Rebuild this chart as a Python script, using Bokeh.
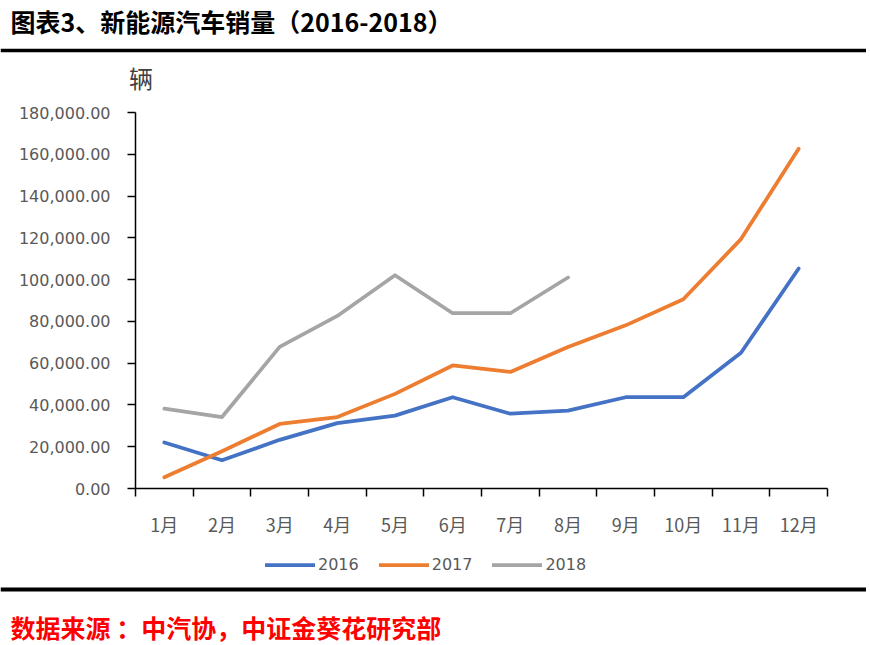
from bokeh.plotting import figure
from bokeh.models import (Range1d, FixedTicker, NumeralTickFormatter, Legend, LegendItem,
                          Span, ColumnDataSource)
from bokeh.layouts import column
from bokeh.core.properties import value
from bokeh.embed import file_html
from bokeh.resources import INLINE
import numpy as np

# ---------------- data ----------------
title_text = "图表3、新能源汽车销量（2016-2018）"
unit_text = "辆"
source_text = "数据来源 ：中汽协，中证金葵花研究部"
months = ["1月", "2月", "3月", "4月", "5月", "6月", "7月", "8月", "9月", "10月", "11月", "12月"]
sales_2016 = [22000, 13500, 23300, 31300, 34900, 43700, 35800, 37300, 43700, 43700, 65000, 105300]
sales_2017 = [5400, 17800, 30900, 34200, 45300, 58900, 55800, 67700, 78100, 90600, 119400, 162600]
sales_2018 = [38200, 34200, 67800, 82600, 102100, 83900, 83900, 101000]
y_ticks = [0, 20000, 40000, 60000, 80000, 100000, 120000, 140000, 160000, 180000]
series_names = ["2016", "2017", "2018"]
series_colors = ["#4472C4", "#ED7D31", "#A5A5A5"]

W = 866
CJK = "Noto Sans CJK SC"
NUM = "DejaVu Sans"
LW = 3.75


def blank_fig(h):
    f = figure(width=W, height=h, x_range=Range1d(0, W), y_range=Range1d(h, 0),
               output_backend="svg", toolbar_location=None, min_border=0, frame_align=False)
    f.axis.visible = False
    f.grid.visible = False
    f.outline_line_color = None
    return f


# ---------------- header ----------------
hdr_h = 100
hdr = blank_fig(hdr_h)
hdr.text(x=[10], y=[20], text=[title_text], text_baseline="middle", text_align="left",
         text_font=value(CJK), text_font_style="bold", text_font_size="25px", text_color="#000000")
hdr.text(x=[140.5], y=[77], text=[unit_text], text_baseline="middle", text_align="center",
         text_font=value(CJK), text_font_size="24px", text_color="#404040")
hdr.add_layout(Span(location=50, dimension="width", line_color="#000000", line_width=3.5))

# ---------------- main chart ----------------
main_h = 439
p = figure(width=W, height=main_h, x_range=Range1d(0, len(months)), y_range=Range1d(0, 180000),
           output_backend="svg", toolbar_location=None, frame_align=False,
           min_border_left=135, min_border_right=W - 827, min_border_top=12, min_border_bottom=51)
p.grid.visible = False
p.outline_line_color = None

centers = list(np.arange(len(months)) + 0.5)
for name, vals, col in zip(series_names, [sales_2016, sales_2017, sales_2018], series_colors):
    src = ColumnDataSource(dict(x=centers[:len(vals)], y=vals))
    p.line("x", "y", source=src, line_color=col, line_width=LW,
           line_join="round", line_cap="round")

xa = p.xaxis[0]
xa.ticker = FixedTicker(ticks=centers, minor_ticks=list(range(len(months) + 1)))
xa.major_label_overrides = {float(c): m for c, m in zip(centers, months)}
xa.major_tick_out = 0
xa.major_tick_in = 0
xa.minor_tick_out = 8
xa.minor_tick_in = 0
xa.minor_tick_line_color = "#000000"
xa.minor_tick_line_width = 1.5
xa.axis_line_color = "#000000"
xa.axis_line_width = 1.5
xa.major_label_standoff = 14
xa.major_label_text_font = CJK
xa.major_label_text_font_size = "18px"
xa.major_label_text_color = "#595959"

ya = p.yaxis[0]
ya.ticker = FixedTicker(ticks=y_ticks)
ya.formatter = NumeralTickFormatter(format="0,0.00")
ya.major_tick_out = 8
ya.major_tick_in = 0
ya.minor_tick_out = 0
ya.minor_tick_in = 0
ya.major_tick_line_color = "#000000"
ya.major_tick_line_width = 1.5
ya.axis_line_color = "#000000"
ya.axis_line_width = 1.5
ya.major_label_standoff = 17
ya.major_label_text_font = NUM
ya.major_label_text_font_size = "16px"
ya.major_label_text_color = "#595959"

# ---------------- legend strip ----------------
leg_h = 41
lg = figure(width=W, height=leg_h, x_range=Range1d(0, 1), y_range=Range1d(0, 1),
            output_backend="svg", toolbar_location=None, min_border=0, frame_align=False)
lg.axis.visible = False
lg.grid.visible = False
lg.outline_line_color = None
items = []
for name, col in zip(series_names, series_colors):
    r = lg.line(x=[np.nan], y=[np.nan], line_color=col, line_width=LW, line_cap="round")
    items.append(LegendItem(label=name, renderers=[r]))
legend = Legend(items=items, location=(265, 6), orientation="horizontal",
                glyph_width=50, glyph_height=19, label_standoff=3, spacing=20,
                padding=0, margin=0, border_line_color=None, background_fill_alpha=0,
                label_text_font=NUM, label_text_font_size="16px", label_text_color="#595959")
lg.add_layout(legend, "center")

# ---------------- footer ----------------
ftr_h = 63
ftr = blank_fig(ftr_h)
ftr.add_layout(Span(location=9, dimension="width", line_color="#000000", line_width=4))
ftr.text(x=[10], y=[46], text=[source_text], text_baseline="middle", text_align="left",
         text_font=value(CJK), text_font_style="bold", text_font_size="25px", text_color="#FF0000")

layout = column(hdr, p, lg, ftr, spacing=0)
open("out.html", "w").write(file_html(layout, INLINE))
